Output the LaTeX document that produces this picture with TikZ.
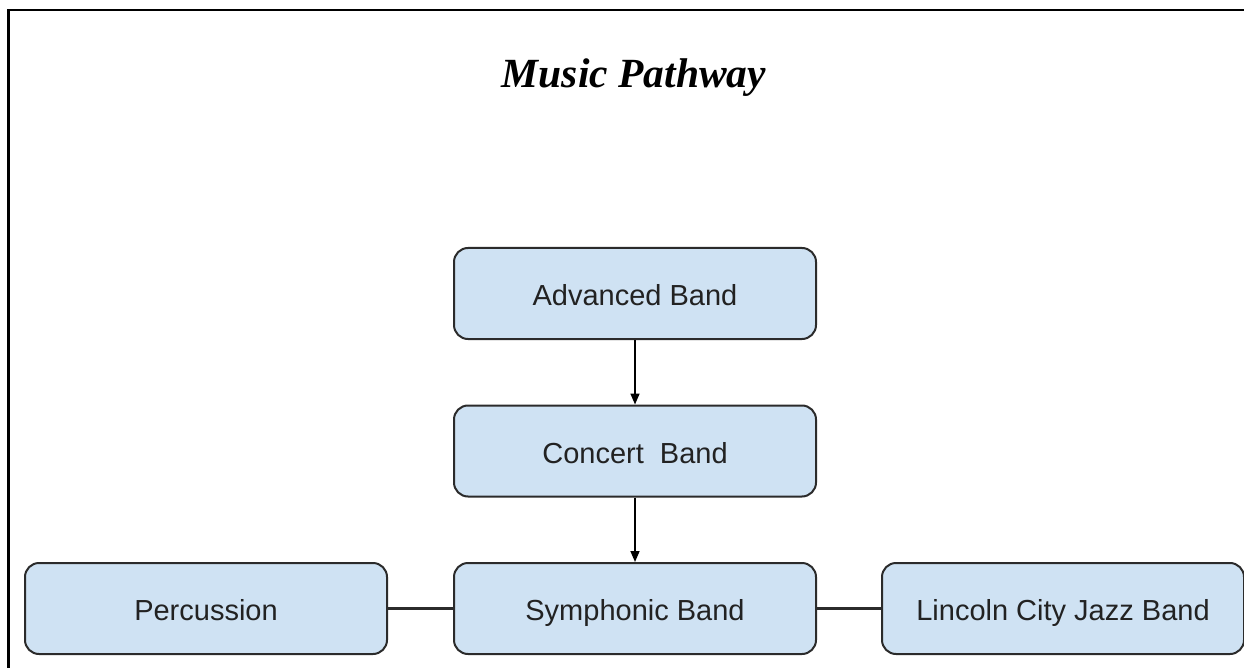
\documentclass[tikz,border=0pt]{standalone}
\usepackage{fontspec}
\setmainfont{Liberation Serif}
\newfontfamily\boxfont{Liberation Sans}
\usetikzlibrary{arrows.meta}
\definecolor{boxfill}{HTML}{CFE2F3}
\definecolor{boxline}{HTML}{2B2B2B}
\definecolor{txt}{HTML}{222222}
\tikzset{
  stepbox/.style={draw=boxline, line width=2pt, fill=boxfill, rounded corners=14pt,
    minimum width=362pt, minimum height=91pt, inner sep=0pt, text=txt,
    text height=24pt, text depth=0pt,
    font=\boxfont\fontsize{29}{34}\selectfont},
  flow/.style={draw=black, line width=1.6pt, -{Triangle[length=11pt,width=9pt]}},
  link/.style={draw=boxline, line width=2.2pt}
}
\begin{document}
\begin{tikzpicture}[x=1pt,y=-1pt]
\useasboundingbox (0,0) rectangle (1244,668);
\draw[line width=2.4pt, line cap=rect] (8.5,668) -- (8.5,10) -- (1244,10);
\node[font=\bfseries\itshape\fontsize{41.5}{48}\selectfont, text=black] (title) at (634,78) {Music Pathway};
\node[stepbox] (adv) at (635,293.5) {Advanced Band};
\node[stepbox] (con) at (635,451) {Concert\ \ Band};
\node[stepbox] (sym) at (635,608.5) {Symphonic Band};
\node[stepbox] (per) at (206,608.5) {Percussion};
\node[stepbox] (jazz) at (1063,608.5) {Lincoln City Jazz Band};
\draw[flow] (adv.south) -- (con.north);
\draw[flow] (con.south) -- (sym.north);
\draw[link] (per.east) -- (sym.west);
\draw[link] (sym.east) -- (jazz.west);
\end{tikzpicture}
\end{document}
